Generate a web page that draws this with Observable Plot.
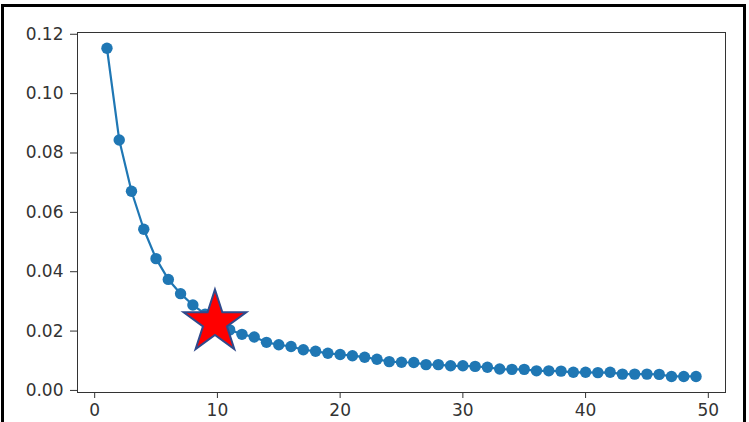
<!DOCTYPE html>
<html>
<head>
<meta charset="utf-8">
<script src="https://cdn.jsdelivr.net/npm/d3@7"></script>
<script src="https://cdn.jsdelivr.net/npm/@observablehq/plot@0.6"></script>
<style>
  html, body { margin: 0; padding: 0; background: #fff; }
  #wrap { position: relative; width: 749px; height: 422px; overflow: hidden; }
  #wrap svg { display: block; }
  #border { position: absolute; left: 1px; top: 4px; width: 745px; height: 430px;
            border-top: 3px solid #000; border-left: 3px solid #000; border-right: 3px solid #000;
            box-sizing: border-box; pointer-events: none; }
</style>
</head>
<body>
<div id="wrap"><div id="border"></div></div>
<script>
const xs = [1,2,3,4,5,6,7,8,9,10,11,12,13,14,15,16,17,18,19,20,21,22,23,24,25,26,27,28,29,30,31,32,33,34,35,36,37,38,39,40,41,42,43,44,45,46,47,48,49];
const ys = [0.1153,0.0844,0.0671,0.0543,0.0444,0.0374,0.0326,0.0288,0.0257,0.0230,
            0.0204,0.0189,0.0180,0.0162,0.0154,0.0148,0.0137,0.0132,0.0125,0.0121,
            0.0117,0.0112,0.0105,0.0097,0.0095,0.0094,0.0087,0.0087,0.0083,0.0083,
            0.0081,0.0078,0.0072,0.0071,0.0071,0.0066,0.0066,0.0065,0.0061,0.0061,
            0.0060,0.0061,0.0055,0.0055,0.0055,0.0054,0.0047,0.0047,0.0047];
const starX = [9.8];
const starY = [0.0229];
const xTicks = [0,10,20,30,40,50];
const yTicks = [0,0.02,0.04,0.06,0.08,0.10,0.12];

const data = xs.map((x, i) => ({x, y: ys[i]}));
const star = starX.map((x, i) => ({x, y: starY[i]}));

const chart = Plot.plot({
  width: 749,
  height: 422,
  marginLeft: 77,
  marginRight: 24,
  marginTop: 32,
  marginBottom: 30,
  style: {fontFamily: "DejaVu Sans", fontSize: "17px", color: "#333", background: "transparent"},
  x: {domain: [-1.4, 51.4], label: null},
  y: {domain: [-0.0007, 0.1206], label: null},
  marks: [
    Plot.axisX({ticks: xTicks, tickSize: 6, tickPadding: 5, stroke: "#333", fontSize: 17, label: null}),
    Plot.axisY({ticks: yTicks, tickFormat: d3.format(".2f"), tickSize: 7, tickPadding: 7, stroke: "#333", fontSize: 17, label: null}),
    Plot.frame({stroke: "#333", strokeWidth: 1}),
    Plot.line(data, {x: "x", y: "y", stroke: "#1f77b4", strokeWidth: 2.2}),
    Plot.dot(data, {x: "x", y: "y", r: 5.7, fill: "#1f77b4", stroke: "none"}),
    Plot.dot(star, {x: "x", y: "y", symbol: "star", r: 19.7, fill: "#ff0000", stroke: "#2f4a8c", strokeWidth: 2})
  ]
});
document.getElementById("wrap").prepend(chart);
</script>
</body>
</html>
